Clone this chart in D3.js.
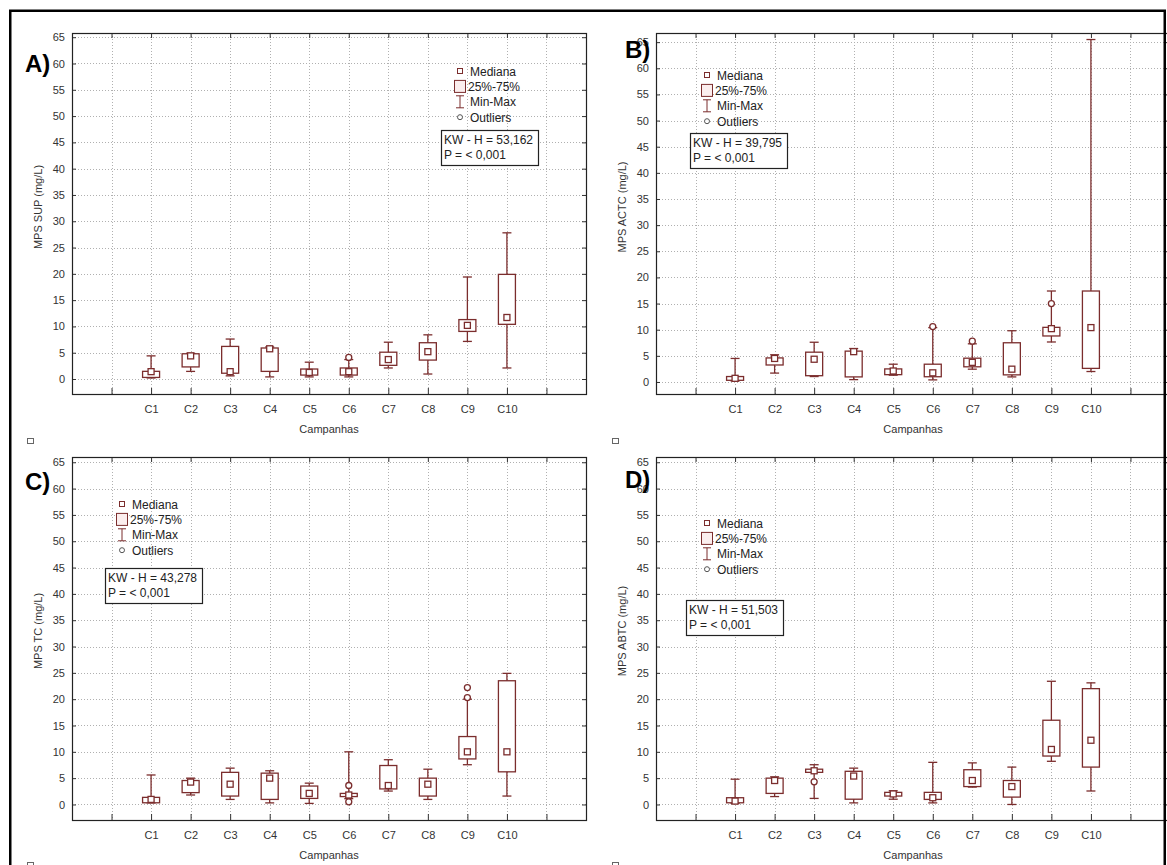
<!DOCTYPE html>
<html>
<head>
<meta charset="utf-8">
<script src="https://cdn.jsdelivr.net/npm/d3@7"></script>
<style>
  body { margin: 0; background: #fff; }
  svg { display: block; }
  text { font-family: Arial, "Liberation Sans", sans-serif; }
</style>
</head>
<body>
<svg id="fig" width="1167" height="865"></svg>
<script>
// ---- data -------------------------------------------------------------
const categories = ["C1", "C2", "C3", "C4", "C5", "C6", "C7", "C8", "C9", "C10"];
const yTicks = [0, 5, 10, 15, 20, 25, 30, 35, 40, 45, 50, 55, 60, 65];

// MPS SUP (mg/L)
const supMin    = [0.2, 1.45, 0.6, 0.4, 0.4, 0.4, 2.1, 0.95, 7.15, 2.1];
const supQ1     = [0.3, 2.3, 1.1, 1.45, 0.75, 0.75, 2.6, 3.6, 9.05, 10.4];
const supMedian = [1.4, 4.4, 1.4, 5.75, 1.25, 1.4, 3.7, 5.2, 10.2, 11.7];
const supQ3     = [1.46, 4.8, 6.2, 5.9, 1.9, 2.1, 5.1, 6.9, 11.3, 19.9];
const supMax    = [4.4, 4.9, 7.6, 6.1, 3.2, 3.7, 7.0, 8.4, 19.4, 27.8];
const supOutliers = [["C6", 4.1]];

// MPS ACTC (mg/L)
const actcMin    = [0.2, 1.7, 1.04, 0.45, 1.3, 0.4, 2.45, 0.97, 7.65, 2.0];
const actcQ1     = [0.32, 3.25, 1.2, 0.97, 1.4, 1.0, 2.9, 1.36, 8.8, 2.6];
const actcMedian = [0.7, 4.5, 4.35, 5.8, 2.1, 1.75, 3.75, 2.45, 10.2, 10.4];
const actcQ3     = [1.04, 4.6, 5.7, 5.9, 2.5, 3.4, 4.55, 7.5, 10.45, 17.4];
const actcMax    = [4.5, 5.2, 7.6, 6.4, 3.4, 10.4, 7.3, 9.8, 17.4, 65.5];
const actcOutliers = [["C6", 10.6], ["C7", 7.8], ["C9", 15.0]];

// MPS TC (mg/L)
const tcMin    = [0.3, 1.8, 0.96, 0.3, 0.2, 1.1, 2.55, 0.96, 7.55, 1.6];
const tcQ1     = [0.32, 2.25, 1.6, 0.96, 1.15, 1.5, 2.95, 1.6, 8.65, 6.2];
const tcMedian = [0.96, 4.25, 3.85, 5.0, 2.1, 1.8, 3.6, 3.85, 10.0, 10.0];
const tcQ3     = [1.35, 4.55, 6.1, 5.95, 3.5, 2.1, 7.4, 5.0, 12.9, 23.5];
const tcMax    = [5.6, 5.0, 6.9, 6.4, 4.05, 10.0, 8.5, 6.7, 20.0, 24.9];
const tcOutliers = [["C6", 3.6], ["C6", 0.5], ["C9", 20.3], ["C9", 22.2]];

// MPS ABTC (mg/L)
const abtcMin    = [0.2, 1.5, 1.15, 0.3, 1.0, 0.3, 3.3, 0.0, 8.2, 2.56];
const abtcQ1     = [0.32, 2.1, 6.1, 1.0, 1.6, 0.96, 3.4, 1.4, 9.2, 7.1];
const abtcMedian = [0.64, 4.55, 6.4, 5.4, 2.0, 1.28, 4.55, 3.4, 10.45, 12.2];
const abtcQ3     = [1.28, 5.0, 6.7, 6.3, 2.3, 2.3, 6.6, 4.55, 16.0, 22.0];
const abtcMax    = [4.8, 5.25, 7.55, 6.9, 2.6, 8.0, 7.9, 7.1, 23.4, 23.1];
const abtcOutliers = [["C3", 4.3]];

const legendLabels = ["Mediana", "25%-75%", "Min-Max", "Outliers"];

// ---- layout -----------------------------------------------------------
const PLOT_W = 514;
const BOX = "#7b2d2d";
const slots = ["lo", "s0", ...categories, "s1", "hi"];

const panels = [
  { tag: "A)", tagX: 25, tagY: 72, left: 72, top: 33, bottom: 394, dom: [-2.85, 65.8],
    title: "MPS SUP (mg/L)", kw: "KW - H = 53,162", leg: [460, 71], stat: [441, 130], mark: [27, 438],
    s: { min: supMin, q1: supQ1, med: supMedian, q3: supQ3, max: supMax, out: supOutliers } },
  { tag: "B)", tagX: 625, tagY: 58, left: 656, top: 33, bottom: 394, dom: [-2.3, 66.75],
    title: "MPS ACTC (mg/L)", kw: "KW - H = 39,795", leg: [707, 75], stat: [690, 133], mark: [612, 438],
    s: { min: actcMin, q1: actcQ1, med: actcMedian, q3: actcQ3, max: actcMax, out: actcOutliers } },
  { tag: "C)", tagX: 25, tagY: 490, left: 72, top: 457, bottom: 820, dom: [-2.95, 66.0],
    title: "MPS TC (mg/L)", kw: "KW - H = 43,278", leg: [122, 504], stat: [105, 568], mark: [27, 862],
    s: { min: tcMin, q1: tcQ1, med: tcMedian, q3: tcQ3, max: tcMax, out: tcOutliers } },
  { tag: "D)", tagX: 625, tagY: 488, left: 656, top: 457, bottom: 820, dom: [-2.95, 66.0],
    title: "MPS ABTC (mg/L)", kw: "KW - H = 51,503", leg: [707, 523], stat: [686, 600], mark: [612, 862],
    s: { min: abtcMin, q1: abtcQ1, med: abtcMedian, q3: abtcQ3, max: abtcMax, out: abtcOutliers } }
];

const svg = d3.select("#fig");

function drawPanel(p) {
  const g = svg.append("g");
  const x = d3.scalePoint().domain(slots).range([p.left, p.left + PLOT_W]);
  const y = d3.scaleLinear().domain(p.dom).range([p.bottom, p.top]);
  const inner = slots.slice(1, -1);
  const right = p.left + PLOT_W;

  // dotted grid
  const grid = g.append("g").attr("stroke", "#b0b0b0").attr("stroke-width", 1)
    .attr("stroke-dasharray", "1,2").attr("shape-rendering", "crispEdges");
  grid.selectAll("line.h").data(yTicks).join("line").attr("class", "h")
    .attr("x1", p.left).attr("x2", right)
    .attr("y1", d => Math.round(y(d)) + 0.5).attr("y2", d => Math.round(y(d)) + 0.5);
  grid.selectAll("line.v").data(inner).join("line").attr("class", "v")
    .attr("y1", p.top).attr("y2", p.bottom)
    .attr("x1", d => Math.round(x(d)) + 0.5).attr("x2", d => Math.round(x(d)) + 0.5);

  // axes, ticks pointing inward on all four sides
  const fmtCat = d => categories.includes(d) ? d : "";
  const axes = [
    g.append("g").attr("transform", `translate(${p.left},0)`)
      .call(d3.axisLeft(y).tickValues(yTicks).tickSizeInner(-4).tickSizeOuter(0).tickPadding(7)),
    g.append("g").attr("transform", `translate(${right},0)`)
      .call(d3.axisRight(y).tickValues(yTicks).tickSizeInner(-4).tickSizeOuter(0).tickFormat("")),
    g.append("g").attr("transform", `translate(0,${p.bottom})`)
      .call(d3.axisBottom(x).tickValues(inner).tickSizeInner(-6).tickSizeOuter(0).tickPadding(11).tickFormat(fmtCat)),
    g.append("g").attr("transform", `translate(0,${p.top})`)
      .call(d3.axisTop(x).tickValues(inner).tickSizeInner(-5).tickSizeOuter(0).tickFormat(""))
  ];
  axes.forEach(a => {
    a.select(".domain").remove();
    a.selectAll("line").attr("stroke", "#333");
    a.selectAll("text").attr("font-size", 11).attr("fill", "#333")
      .attr("font-family", "Arial, 'Liberation Sans', sans-serif");
  });

  // frame
  g.append("rect").attr("x", p.left + 0.5).attr("y", p.top + 0.5)
    .attr("width", PLOT_W).attr("height", p.bottom - p.top)
    .attr("fill", "none").attr("stroke", "#222").attr("stroke-width", 1.2);

  // axis titles
  g.append("text").attr("x", (p.left + right) / 2).attr("y", p.bottom + 39)
    .attr("text-anchor", "middle").attr("font-size", 11).attr("fill", "#333").text("Campanhas");
  g.append("text")
    .attr("transform", `translate(${p.left - 34},${p.top + 174}) rotate(-90)`)
    .attr("text-anchor", "middle").attr("dy", "0.35em")
    .attr("font-size", 11).attr("fill", "#333").text(p.title);

  // boxes
  const rows = categories.map((c, i) => ({
    c, min: p.s.min[i], q1: p.s.q1[i], med: p.s.med[i], q3: p.s.q3[i], max: p.s.max[i]
  }));
  const bw = 17, cw = 9, ms = 6;
  const bx = g.append("g").attr("stroke", BOX).attr("stroke-width", 1.3);
  const item = bx.selectAll("g").data(rows).join("g");
  item.append("line")
    .attr("x1", d => x(d.c)).attr("x2", d => x(d.c))
    .attr("y1", d => y(d.min)).attr("y2", d => y(d.max));
  item.append("line")
    .attr("x1", d => x(d.c) - cw / 2).attr("x2", d => x(d.c) + cw / 2)
    .attr("y1", d => y(d.min)).attr("y2", d => y(d.min));
  item.append("line")
    .attr("x1", d => x(d.c) - cw / 2).attr("x2", d => x(d.c) + cw / 2)
    .attr("y1", d => y(d.max)).attr("y2", d => y(d.max));
  item.append("rect")
    .attr("x", d => x(d.c) - bw / 2).attr("width", bw)
    .attr("y", d => y(d.q3)).attr("height", d => y(d.q1) - y(d.q3))
    .attr("fill", "#fff");
  item.append("rect")
    .attr("x", d => x(d.c) - ms / 2).attr("y", d => y(d.med) - ms / 2)
    .attr("width", ms).attr("height", ms).attr("fill", "#fff");
  bx.selectAll("circle").data(p.s.out).join("circle")
    .attr("cx", d => x(d[0])).attr("cy", d => y(d[1])).attr("r", 3).attr("fill", "#fff");

  // legend
  const [lx, ly] = p.leg;
  const step = 15.4;
  const lg = g.append("g");
  lg.append("rect").attr("x", lx - 2.5).attr("y", ly - 2.5).attr("width", 5).attr("height", 5)
    .attr("fill", "#fff").attr("stroke", BOX).attr("stroke-width", 1);
  lg.append("rect").attr("x", lx - 5.5).attr("y", ly + step - 6).attr("width", 11).attr("height", 12)
    .attr("fill", "#fbeeee").attr("stroke", BOX).attr("stroke-width", 1);
  const wy = ly + 2 * step;
  lg.append("path").attr("d", `M${lx - 4},${wy - 6}H${lx + 4}M${lx},${wy - 6}V${wy + 6}M${lx - 4},${wy + 6}H${lx + 4}`)
    .attr("fill", "none").attr("stroke", BOX).attr("stroke-width", 1);
  lg.append("circle").attr("cx", lx).attr("cy", ly + 3 * step).attr("r", 2.5)
    .attr("fill", "#fff").attr("stroke", "#555").attr("stroke-width", 1);
  lg.selectAll("text").data(legendLabels).join("text")
    .attr("x", (d, i) => i === 1 ? lx + 8 : lx + 10)
    .attr("y", (d, i) => ly + i * step + 4.5)
    .attr("font-size", 12).attr("fill", "#222").text(d => d);

  // test statistic box
  const [sx, sy] = p.stat;
  g.append("rect").attr("x", sx + 0.5).attr("y", sy + 0.5).attr("width", 97).attr("height", 35)
    .attr("fill", "#fff").attr("stroke", "#222").attr("stroke-width", 1.2);
  g.append("text").attr("x", sx + 3).attr("y", sy + 14).attr("font-size", 12).attr("fill", "#222").text(p.kw);
  g.append("text").attr("x", sx + 3).attr("y", sy + 29).attr("font-size", 12).attr("fill", "#222").text("P = < 0,001");

  // panel letter
  g.append("text").attr("x", p.tagX).attr("y", p.tagY)
    .attr("font-size", 24).attr("font-weight", "bold").attr("fill", "#000").text(p.tag);

  // small placeholder glyph under the panel
  g.append("rect").attr("x", p.mark[0] + 0.5).attr("y", p.mark[1] + 0.5).attr("width", 6).attr("height", 5)
    .attr("fill", "none").attr("stroke", "#666").attr("stroke-width", 1);
}

panels.forEach(drawPanel);

// outer frame of the figure
svg.append("rect").attr("x", 10.25).attr("y", 10.75).attr("width", 1154.5).attr("height", 900)
  .attr("fill", "none").attr("stroke", "#000").attr("stroke-width", 2.5);
</script>
</body>
</html>
